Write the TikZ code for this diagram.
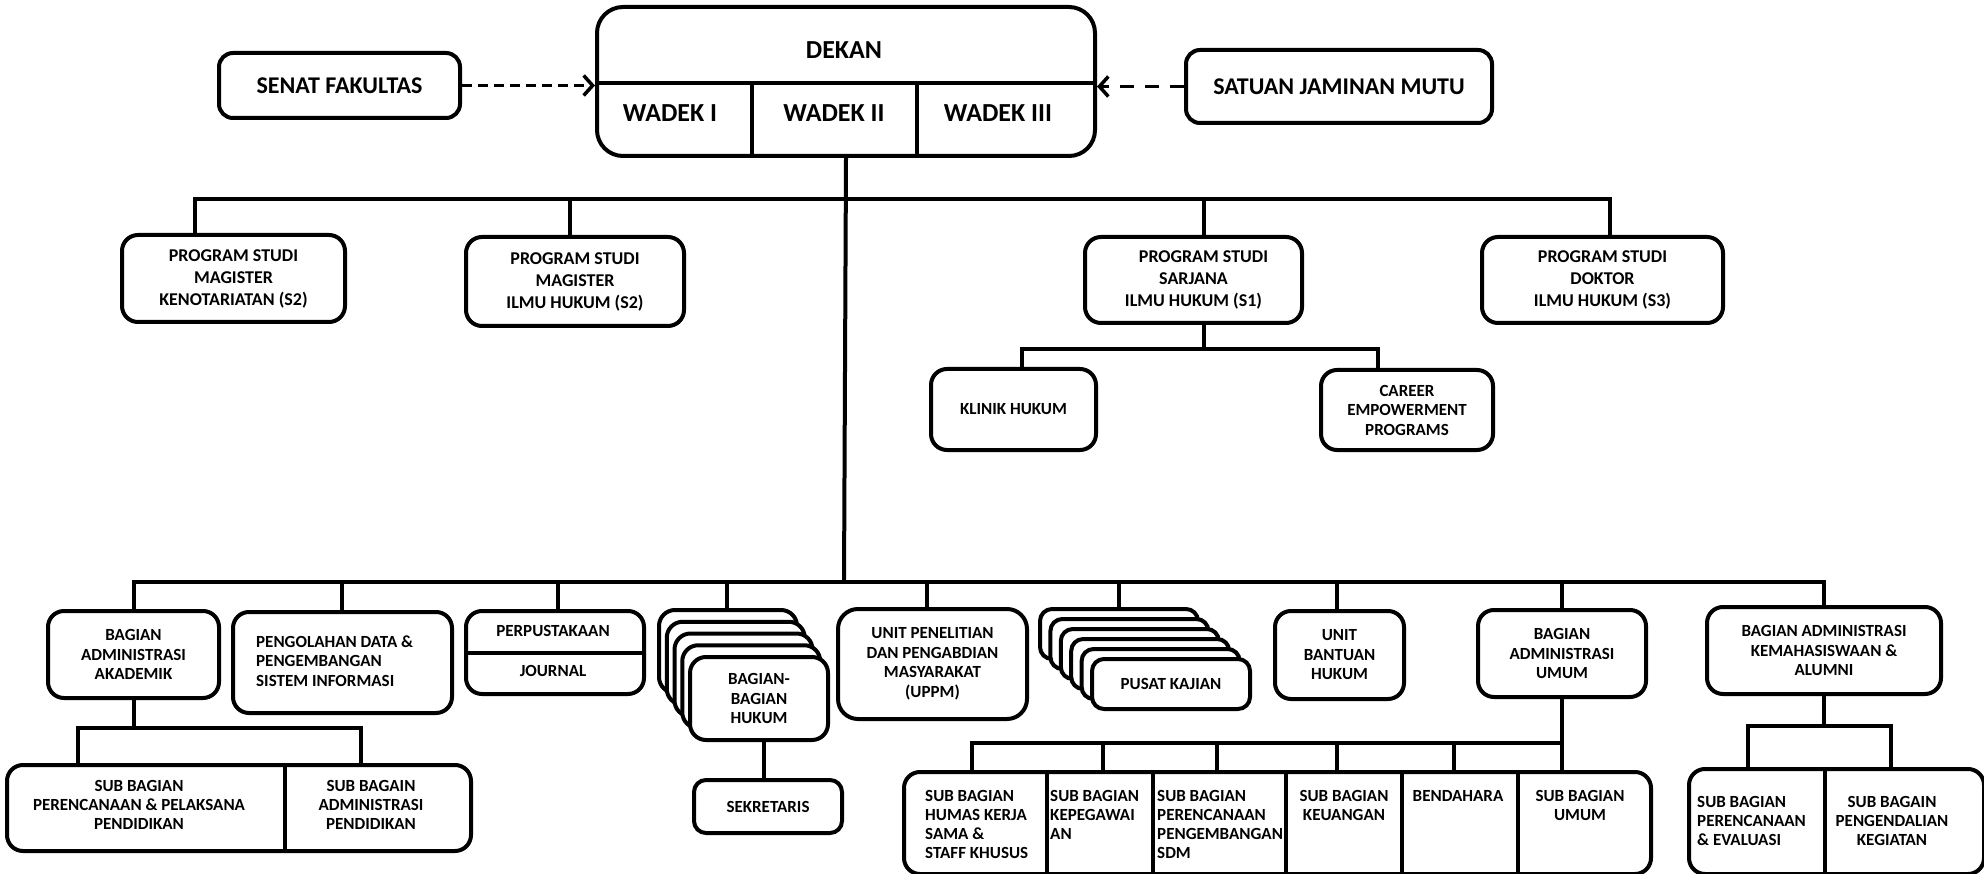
\documentclass[tikz,border=0pt]{standalone}
\usepackage{fontspec}
\setmainfont{Carlito}
\usetikzlibrary{arrows.meta}
\begin{document}
\begin{tikzpicture}[x=1pt,y=-1pt,
  conn/.style={line width=4pt},
  box/.style={draw,line width=4pt,rounded corners=16pt,fill=white,inner sep=0pt,anchor=north west,align=center},
  fbig/.style={font=\bfseries\fontsize{26}{30}\selectfont},
  fmid/.style={font=\bfseries\fontsize{24}{28}\selectfont},
  fps/.style={font=\bfseries\fontsize{18}{22}\selectfont},
  fsm/.style={font=\bfseries\fontsize{17}{19.5}\selectfont},
  fsub/.style={font=\bfseries\fontsize{17}{19}\selectfont},
  lbl/.style={inner sep=0pt,align=center},
  lbll/.style={inner sep=0pt,align=left},
  dasharrow/.style={line width=3.5pt,-{Straight Barb[length=9pt,width=20pt]}}
]
\useasboundingbox (0,0) rectangle (1984,874);

% ---------- DEKAN ----------
\node[box,rounded corners=26pt,minimum width=498pt,minimum height=149pt] (dekan) at (595,5) {};
\coordinate (dv) at (0,83);
\coordinate (wd1) at (752,0);
\coordinate (wd2) at (917,0);
\draw[conn] (dekan.west |- dv) -- (dekan.east |- dv);
\draw[conn] (wd1 |- dv) -- (wd1 |- dekan.south);
\draw[conn] (wd2 |- dv) -- (wd2 |- dekan.south);
\node[lbl,fbig] (dk) at (844,50) {DEKAN};
\node[lbl,fbig] (w1) at (670,113) {WADEK I};
\node[lbl,fbig] (w2) at (834,113) {WADEK II};
\node[lbl,fbig] (w3) at (998,113) {WADEK III};

\node[box,fmid,rounded corners=14pt,minimum width=241pt,minimum height=65pt] (senat) at (217,51) {SENAT FAKULTAS};
\node[box,fmid,rounded corners=14pt,minimum width=306pt,minimum height=73pt] (sjm) at (1184,48) {SATUAN JAMINAN MUTU};
\draw[dasharrow,dash pattern=on 10pt off 6pt] (senat.east) -- (senat.east -| dekan.west);
\draw[dasharrow,dash pattern=on 14pt off 11pt] (sjm.west) -- (sjm.west -| dekan.east);

% ---------- PROGRAM STUDI ----------
\node[box,fps,minimum width=223pt,minimum height=87pt] (ps1) at (120,233) {PROGRAM STUDI\\MAGISTER\\KENOTARIATAN (S2)};
\node[box,fps,minimum width=218pt,minimum height=89pt] (ps2) at (464,235) {PROGRAM STUDI\\MAGISTER\\ILMU HUKUM (S2)};
\node[box,fps,minimum width=217pt,minimum height=86pt] (ps3) at (1083,235) {\hspace*{20pt}PROGRAM STUDI\\SARJANA\\ILMU HUKUM (S1)};
\node[box,fps,minimum width=241pt,minimum height=86pt] (ps4) at (1480,235) {PROGRAM STUDI\\DOKTOR\\ILMU HUKUM (S3)};

\node[box,fsm,minimum width=165pt,minimum height=81pt] (kl) at (929,367) {KLINIK HUKUM};
\node[box,fsm,minimum width=172pt,minimum height=80pt] (ce) at (1319,368) {CAREER\\EMPOWERMENT\\PROGRAMS};

\coordinate (t1) at (195,199);
\coordinate (t2) at (570,199);
\coordinate (t3) at (1204,199);
\coordinate (t4) at (1610,199);
\coordinate (bj) at (844,582);
\draw[conn] (dekan.south) -- (bj);
\draw[conn] (t1 |- ps1.north) -- (t1) -- (t4) -- (t4 |- ps4.north);
\draw[conn] (t2) -- (t2 |- ps2.north);
\draw[conn] (t3) -- (t3 |- ps3.north);

\coordinate (s0) at (1204,349);
\coordinate (s1) at (1022,349);
\coordinate (s2) at (1378,349);
\draw[conn] (s0 |- ps3.south) -- (s0);
\draw[conn] (s1 |- kl.north) -- (s1) -- (s2) -- (s2 |- ce.north);

% ---------- BOTTOM ROW ----------
\node[box,fsm,minimum width=171pt,minimum height=87pt] (baa) at (46,609) {BAGIAN\\ADMINISTRASI\\AKADEMIK};
\node[box,minimum width=219pt,minimum height=101pt] (pdsi) at (231,610) {};
\node[lbll,fsm,anchor=west] (pdsit) at (256,661) {PENGOLAHAN DATA \&\\PENGEMBANGAN\\SISTEM INFORMASI};

\node[box,minimum width=178pt,minimum height=83pt] (perp) at (464,609) {};
\coordinate (pd) at (0,653);
\draw[conn] (pd -| perp.west) -- (pd -| perp.east);
\node[lbl,fsm] (perpt) at (553,631) {PERPUSTAKAAN};
\node[lbl,fsm] (jour) at (553,671) {JOURNAL};

\foreach \i in {0,...,4}
  \node[box,minimum width=138pt,minimum height=83pt] (bh\i) at ({657+7.75*\i},{608+11.75*\i}) {};
\node[lbl,fsm] (bht) at (bh4.center) {BAGIAN-\\BAGIAN\\HUKUM};

\node[box,fsm,rounded corners=12pt,minimum width=148pt,minimum height=53pt] (sek) at (692,778) {SEKRETARIS};
\coordinate (h0) at (764,0);
\draw[conn] (h0 |- bh4.south) -- (h0 |- sek.north);

\node[box,fsm,rounded corners=20pt,minimum width=189pt,minimum height=110pt] (uppm) at (836,607) {UNIT PENELITIAN\\DAN PENGABDIAN\\MASYARAKAT\\(UPPM)};

\foreach \i in {0,...,5}
  \node[box,rounded corners=12pt,minimum width=158pt,minimum height=50pt] (pk\i) at ({1038+10.4*\i},{607+10*\i}) {};
\node[lbl,fsm] (pkt) at (pk5.center) {PUSAT KAJIAN};

\node[box,fsm,minimum width=129pt,minimum height=88pt] (ubh) at (1273,609) {UNIT\\BANTUAN\\HUKUM};
\node[box,fsm,minimum width=168pt,minimum height=87pt] (bau) at (1476,608) {BAGIAN\\ADMINISTRASI\\UMUM};
\node[box,fsm,minimum width=234pt,minimum height=87pt] (kem) at (1705,605) {BAGIAN ADMINISTRASI\\KEMAHASISWAAN \&\\ALUMNI};

\coordinate (b1) at (134,582);
\coordinate (b2) at (342,582);
\coordinate (b3) at (558,582);
\coordinate (b4) at (727,582);
\coordinate (b5) at (927,582);
\coordinate (b6) at (1119,582);
\coordinate (b7) at (1337,582);
\coordinate (b8) at (1562,582);
\coordinate (b9) at (1824,582);
\draw[conn] (b1 |- baa.north) -- (b1) -- (b9) -- (b9 |- kem.north);
\draw[conn] (b2) -- (b2 |- pdsi.north);
\draw[conn] (b3) -- (b3 |- perp.north);
\draw[conn] (b4) -- (b4 |- bh0.north);
\draw[conn] (b5) -- (b5 |- uppm.north);
\draw[conn] (b6) -- (b6 |- pk0.north);
\draw[conn] (b7) -- (b7 |- ubh.north);
\draw[conn] (b8) -- (b8 |- bau.north);

% ---------- SUB: AKADEMIK ----------
\node[box,minimum width=464pt,minimum height=86pt] (sa) at (5,763) {};
\coordinate (sad) at (285,0);
\draw[conn] (sad |- sa.north) -- (sad |- sa.south);
\node[lbl,fsub] (sa1) at (139,805) {SUB BAGIAN\\PERENCANAAN \& PELAKSANA\\PENDIDIKAN};
\node[lbl,fsub] (sa2) at (371,805) {SUB BAGAIN\\ADMINISTRASI\\PENDIDIKAN};
\coordinate (a0) at (134,728);
\coordinate (a1) at (78,728);
\coordinate (a2) at (361,728);
\draw[conn] (a0 |- baa.south) -- (a0);
\draw[conn] (a1 |- sa.north) -- (a1) -- (a2) -- (a2 |- sa.north);

% ---------- SUB: UMUM ----------
\node[box,minimum width=747pt,minimum height=102pt] (su) at (902,770) {};
\foreach \x in {1047,1153,1286,1402,1518}
  \draw[conn] (\x,770) -- (\x,872);
\node[lbll,fsub,anchor=north west] (su1) at (925,790) {SUB BAGIAN\\HUMAS KERJA\\SAMA \&\\STAFF KHUSUS};
\node[lbll,fsub,anchor=north west] (su2) at (1050,790) {SUB BAGIAN\\KEPEGAWAI\\AN};
\node[lbll,fsub,anchor=north west] (su3) at (1157,790) {SUB BAGIAN\\PERENCANAAN\\PENGEMBANGAN\\SDM};
\node[lbl,fsub,anchor=north] (su4) at (1344,790) {SUB BAGIAN\\KEUANGAN};
\node[lbl,fsub,anchor=north] (su5) at (1458,790) {BENDAHARA};
\node[lbl,fsub,anchor=north] (su6) at (1580,790) {SUB BAGIAN\\UMUM};
\coordinate (u1) at (972,743);
\coordinate (u2) at (1103,743);
\coordinate (u3) at (1217,743);
\coordinate (u4) at (1337,743);
\coordinate (u5) at (1454,743);
\coordinate (u6) at (1562,743);
\draw[conn] (u6 |- bau.south) -- (u6 |- su.north);
\draw[conn] (u1 |- su.north) -- (u1) -- (u6);
\draw[conn] (u2) -- (u2 |- su.north);
\draw[conn] (u3) -- (u3 |- su.north);
\draw[conn] (u4) -- (u4 |- su.north);
\draw[conn] (u5) -- (u5 |- su.north);

% ---------- SUB: KEMAHASISWAAN ----------
\node[box,minimum width=295pt,minimum height=105pt] (sk) at (1687,767) {};
\coordinate (skd) at (1825,0);
\draw[conn] (skd |- sk.north) -- (skd |- sk.south);
\node[lbll,fsub,anchor=north west] (sk1) at (1697,796) {SUB BAGIAN\\PERENCANAAN\\\& EVALUASI};
\node[lbl,fsub,anchor=north] (sk2) at (1892,796) {SUB BAGAIN\\PENGENDALIAN\\KEGIATAN};
\coordinate (k0) at (1824,726);
\coordinate (k1) at (1748,726);
\coordinate (k2) at (1891,726);
\draw[conn] (k0 |- kem.south) -- (k0);
\draw[conn] (k1 |- sk.north) -- (k1) -- (k2) -- (k2 |- sk.north);
\end{tikzpicture}
\end{document}
